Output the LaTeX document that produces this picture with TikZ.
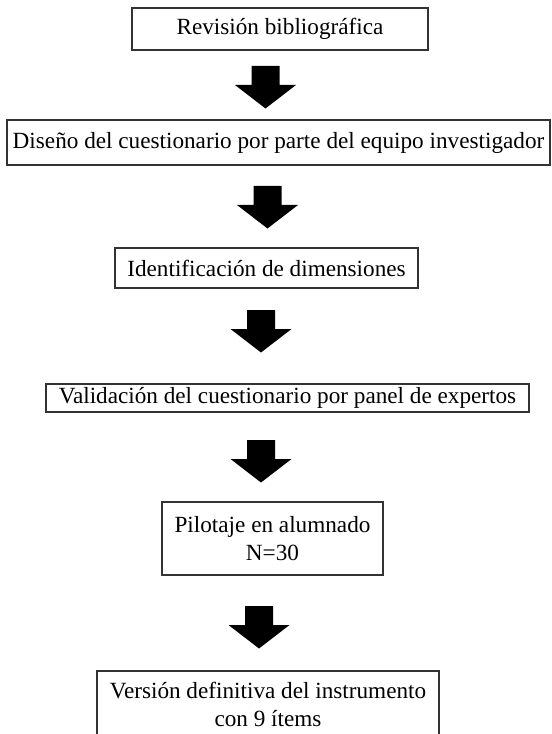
\documentclass[tikz,border=0pt]{standalone}
\usepackage{fontspec}
\setmainfont{Liberation Serif}
\begin{document}
\begin{tikzpicture}[x=0.75pt,y=-0.75pt,
  box/.style={draw=black!80, line width=0.9pt, inner sep=0pt, align=center,
    font=\fontsize{17.4}{21.4}\selectfont, text=black},
  blockarrow/.pic={\fill[black] (-14,0) -- (14,0) -- (14,19) -- (30.5,19) -- (0,42.5) -- (-30.5,19) -- (-14,19) -- cycle;}]
\clip (0,0) rectangle (552,734);
\fill[white] (0,0) rectangle (552,734);
\node[box, minimum width=222pt, minimum height=31.5pt] (n1) at (280,29) {Revisión bibliográfica};
\node[box, minimum width=407.25pt, minimum height=33.75pt] (n2) at (278.5,142.5) {Diseño del cuestionario por parte del equipo investigador};
\node[box, minimum width=227.25pt, minimum height=30pt] (n3) at (266.5,268) {Identificación de dimensiones};
\node[box, minimum width=362.25pt, minimum height=21pt] (n4) at (287.5,398) {Validación del cuestionario por panel de expertos};
\node[box, minimum width=165.75pt, minimum height=54.75pt] (n5) at (272.5,538.5) {Pilotaje en alumnado\\N=30};
\node[box, minimum width=256.5pt, minimum height=50.25pt] (n6) at (268,704.5) {Versión definitiva del instrumento\\con 9 ítems};
\pic at (265.5,66) {blockarrow};
\pic at (267.5,186) {blockarrow};
\pic at (261,310) {blockarrow};
\pic at (261,440) {blockarrow};
\pic at (259,606) {blockarrow};
\end{tikzpicture}
\end{document}
